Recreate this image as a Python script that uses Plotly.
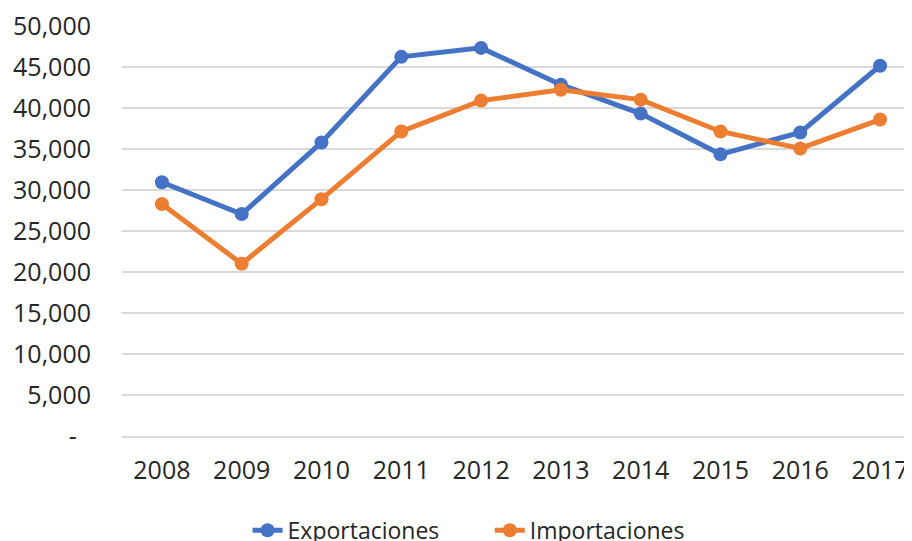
import plotly.graph_objects as go

years = ["2008", "2009", "2010", "2011", "2012", "2013", "2014", "2015", "2016", "2017"]
exportaciones = [30950, 27060, 35800, 46240, 47330, 42840, 39320, 34350, 37020, 45150]
importaciones = [28280, 21000, 28880, 37140, 40900, 42230, 41020, 37140, 35070, 38590]
ytick_vals = [0, 5000, 10000, 15000, 20000, 25000, 30000, 35000, 40000, 45000, 50000]
ytick_text = ["-\u2007", "5,000", "10,000", "15,000", "20,000", "25,000",
              "30,000", "35,000", "40,000", "45,000", "50,000"]

BLUE = "#4472C4"
ORANGE = "#ED7D31"
FONT = "Open Sans"
TXT = "#262626"

fig = go.Figure()
fig.add_trace(go.Scatter(x=years, y=exportaciones, name="Exportaciones", mode="lines+markers",
                         line=dict(color=BLUE, width=5), marker=dict(color=BLUE, size=14),
                         legend="legend"))
fig.add_trace(go.Scatter(x=years, y=importaciones, name="Importaciones", mode="lines+markers",
                         line=dict(color=ORANGE, width=5), marker=dict(color=ORANGE, size=14),
                         legend="legend2"))

leg_common = dict(orientation="h", xref="container", yref="container", yanchor="middle",
                  xanchor="left", y=0.02, font=dict(family=FONT, size=23, color=TXT),
                  bgcolor="rgba(0,0,0,0)")

fig.update_layout(
    width=904, height=533,
    margin=dict(l=114, r=0, t=16, b=105),
    paper_bgcolor="white", plot_bgcolor="white",
    font=dict(family=FONT, size=25, color=TXT),
    showlegend=True,
    legend=dict(x=0.265, **leg_common),
    legend2=dict(x=0.533, **leg_common),
    xaxis=dict(type="category", range=[-0.5, 9.4], showgrid=False, zeroline=False,
               showline=True, linecolor="#D9D9D9", linewidth=2,
               ticks="", ticklabelstandoff=11, tickfont=dict(size=25),
               ticklabeloverflow="allow"),
    yaxis=dict(range=[0, 50000], tickvals=ytick_vals, ticktext=ytick_text,
               showgrid=True, gridcolor="#D9D9D9", gridwidth=2, zeroline=False,
               showline=False, ticks="", ticklabelstandoff=30, tickfont=dict(size=25),
               ticklabeloverflow="allow"),
)

fig.write_html("out.html")
